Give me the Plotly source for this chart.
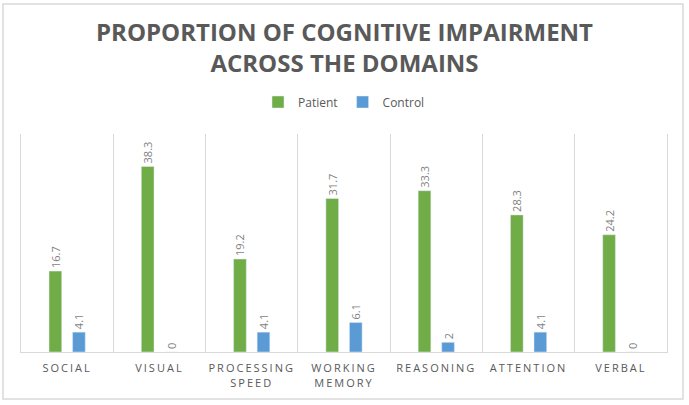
import plotly.graph_objects as go

domains = ["SOCIAL", "VISUAL", "PROCESSING<br>SPEED", "WORKING<br>MEMORY",
           "REASONING", "ATTENTION", "VERBAL"]
patient = [16.7, 38.3, 19.2, 31.7, 33.3, 28.3, 24.2]
control = [4.1, 0, 4.1, 6.1, 2, 4.1, 0]

W, H = 689, 405
ml, mr, mt, mb = 21, 22, 134, 53
pw, ph = W - ml - mr, H - mt - mb

fig = go.Figure()
fig.add_trace(go.Bar(x=domains, y=patient, name="Patient", marker_color="#70AD47",
                     text=patient, textposition="outside", textangle=-90,
                     constraintext="none",
                     textfont=dict(size=11, color="#7F7F7F"), cliponaxis=False))
fig.add_trace(go.Bar(x=domains, y=control, name="Control", marker_color="#5B9BD5",
                     text=control, textposition="outside", textangle=-90,
                     constraintext="none",
                     textfont=dict(size=11, color="#7F7F7F"), cliponaxis=False))

# outer chart frame
fig.add_shape(type="rect", xref="paper", yref="paper",
              x0=(3 - ml) / pw, x1=(683 - ml) / pw,
              y0=(H - mb - 399) / ph, y1=(H - mb - 4) / ph,
              line=dict(color="#D9D9D9", width=1.5), layer="above")

fig.update_layout(
    width=W, height=H,
    margin=dict(l=ml, r=mr, t=mt, b=mb),
    paper_bgcolor="white", plot_bgcolor="white",
    font=dict(family="Open Sans", color="#595959"),
    title=dict(text="<b>PROPORTION OF COGNITIVE IMPAIRMENT<br>ACROSS THE DOMAINS</b>",
               x=0.5, xanchor="center", xref="container",
               y=1 - 41 / H, yanchor="middle", yref="container",
               font=dict(size=24, color="#595959")),
    barmode="group", bargap=0.49, bargroupgap=0.46,
    legend=dict(orientation="h", x=0.5, xanchor="center",
                y=(H - mb - 102) / ph, yanchor="middle",
                font=dict(size=12, color="#595959"),
                traceorder="normal"),
    showlegend=True,
)
fig.update_xaxes(showline=True, linecolor="#D9D9D9", tickson="boundaries",
                 showgrid=True, gridcolor="#D9D9D9", ticks="", automargin=False,
                 ticklabelstandoff=6,
                 tickfont=dict(size=11, color="#595959"))
fig.update_yaxes(range=[0, 45], showticklabels=False, showgrid=False, automargin=False,
                 zeroline=False, showline=True, mirror=True, linecolor="#D9D9D9")

# drop the default 8px body margin, and space out the category letters like the original
js = """
document.body.style.margin='0';
document.querySelectorAll('.xtick text').forEach(function(t){t.style.letterSpacing='2px';});
"""
fig.write_html("out.html", post_script=js, config={"displayModeBar": False})
